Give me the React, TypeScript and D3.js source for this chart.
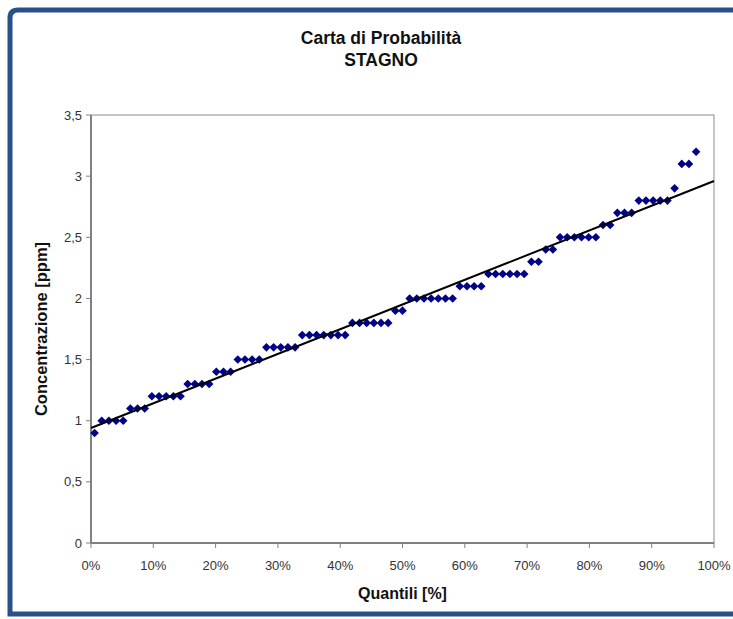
import React from "react";
import * as d3 from "d3";

// Tin concentration samples, sorted ascending (ppm)
const concentrations: number[] = [
  0.9,
  1.0, 1.0, 1.0, 1.0,
  1.1, 1.1, 1.1,
  1.2, 1.2, 1.2, 1.2, 1.2,
  1.3, 1.3, 1.3, 1.3,
  1.4, 1.4, 1.4,
  1.5, 1.5, 1.5, 1.5,
  1.6, 1.6, 1.6, 1.6, 1.6,
  1.7, 1.7, 1.7, 1.7, 1.7, 1.7, 1.7,
  1.8, 1.8, 1.8, 1.8, 1.8, 1.8,
  1.9, 1.9,
  2.0, 2.0, 2.0, 2.0, 2.0, 2.0, 2.0,
  2.1, 2.1, 2.1, 2.1,
  2.2, 2.2, 2.2, 2.2, 2.2, 2.2,
  2.3, 2.3,
  2.4, 2.4,
  2.5, 2.5, 2.5, 2.5, 2.5, 2.5,
  2.6, 2.6,
  2.7, 2.7, 2.7,
  2.8, 2.8, 2.8, 2.8, 2.8,
  2.9,
  3.1, 3.1,
  3.2,
];

// Plotting-position denominator for the empirical quantiles
const quantileDenominator = 87;

// Linear trend: value = intercept + slope * quantile
const trendIntercept = 0.94;
const trendSlope = 2.02;

const yTicks: number[] = [0, 0.5, 1, 1.5, 2, 2.5, 3, 3.5];
const xTicks: number[] = [0, 0.1, 0.2, 0.3, 0.4, 0.5, 0.6, 0.7, 0.8, 0.9, 1];

const titleLines: string[] = ["Carta di Probabilità", "STAGNO"];
const xAxisTitle = "Quantili [%]";
const yAxisTitle = "Concentrazione [ppm]";

const W = 733;
const H = 619;
const plot = { left: 91, right: 714, top: 115, bottom: 543 };
const FONT = "'Liberation Sans', Arial, sans-serif";

export default function App() {
  const x = d3.scaleLinear().domain([0, 1]).range([plot.left, plot.right]);
  const y = d3.scaleLinear().domain([0, 3.5]).range([plot.bottom, plot.top]);

  const points = concentrations.map((v, i) => ({
    q: (i + 0.5) / quantileDenominator,
    v,
  }));

  const trend = d3
    .line<number>()
    .x((q) => x(q))
    .y((q) => y(trendIntercept + trendSlope * q));

  const fmtY = (v: number) => String(v).replace(".", ",");
  const fmtX = (v: number) => `${Math.round(v * 100)}%`;

  const r = 4.3; // half-diagonal of diamond marker
  const diamond = `M0,${-r}L${r},0L0,${r}L${-r},0Z`;

  return (
    <svg
      width={W}
      height={H}
      style={{ position: "absolute", left: 0, top: 0, background: "#fff" }}
      fontFamily={FONT}
    >
      {/* outer frame */}
      <path
        d={`M${W + 10},10 L18,10 Q10,10 10,18 L10,${H - 5} L${W + 10},${H - 5}`}
        fill="none"
        stroke="#2a5088"
        strokeWidth={5}
      />

      {/* titles */}
      {titleLines.map((t, i) => (
        <text
          key={t}
          x={381}
          y={44 + i * 22}
          textAnchor="middle"
          fontSize={17.5}
          fontWeight="bold"
          fill="#111"
        >
          {t}
        </text>
      ))}

      {/* plot frame */}
      <rect
        x={plot.left}
        y={plot.top}
        width={plot.right - plot.left}
        height={plot.bottom - plot.top}
        fill="none"
        stroke="#8c8c8c"
        strokeWidth={1}
      />
      <line
        x1={plot.left}
        x2={plot.left}
        y1={plot.top}
        y2={plot.bottom}
        stroke="#808080"
        strokeWidth={2}
      />
      <line
        x1={plot.left}
        x2={plot.right}
        y1={plot.bottom}
        y2={plot.bottom}
        stroke="#808080"
        strokeWidth={2}
      />

      {/* y axis */}
      {yTicks.map((t) => (
        <g key={`y${t}`}>
          <line
            x1={plot.left - 5}
            x2={plot.left}
            y1={y(t)}
            y2={y(t)}
            stroke="#808080"
            strokeWidth={1}
          />
          <text
            x={plot.left - 9}
            y={y(t)}
            dy="0.35em"
            textAnchor="end"
            fontSize={13}
            fill="#333"
          >
            {fmtY(t)}
          </text>
        </g>
      ))}

      {/* x axis */}
      {xTicks.map((t) => (
        <g key={`x${t}`}>
          <line
            x1={x(t)}
            x2={x(t)}
            y1={plot.bottom}
            y2={plot.bottom + 5}
            stroke="#808080"
            strokeWidth={1}
          />
          <text
            x={x(t)}
            y={plot.bottom + 27}
            textAnchor="middle"
            fontSize={13}
            fill="#333"
          >
            {fmtX(t)}
          </text>
        </g>
      ))}

      {/* axis titles */}
      <text
        x={(plot.left + plot.right) / 2}
        y={599}
        textAnchor="middle"
        fontSize={16}
        fontWeight="bold"
        fill="#111"
      >
        {xAxisTitle}
      </text>
      <text
        transform={`translate(47,${(plot.top + plot.bottom) / 2}) rotate(-90)`}
        textAnchor="middle"
        fontSize={16.5}
        fontWeight="bold"
        fill="#111"
      >
        {yAxisTitle}
      </text>

      {/* data */}
      {points.map((p, i) => (
        <path
          key={i}
          d={diamond}
          transform={`translate(${x(p.q)},${y(p.v)})`}
          fill="#000088"
        />
      ))}

      {/* trend line */}
      <path d={trend([0, 1]) ?? ""} fill="none" stroke="#000" strokeWidth={2} />
    </svg>
  );
}
